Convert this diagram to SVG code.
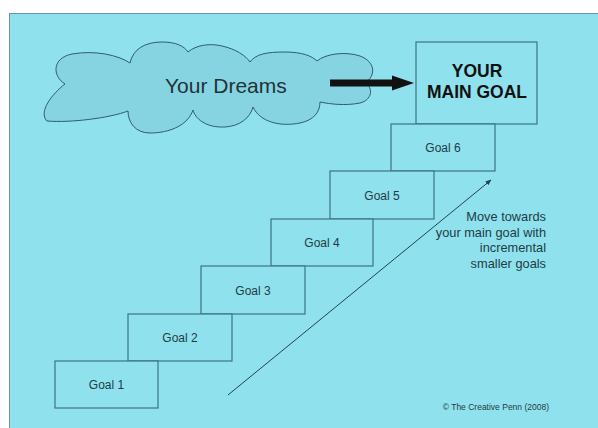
<svg xmlns="http://www.w3.org/2000/svg" width="598" height="428" viewBox="0 0 598 428">
  <defs>
    <style>
      .step rect { fill: #8fe1ee; stroke: #3d7480; stroke-width: 1.2; }
      .step text { font-family: "Liberation Sans", Arial, sans-serif; font-size: 12px; fill: #1f3c44; text-anchor: middle; }
      .note { font-family: "Liberation Sans", Arial, sans-serif; font-size: 12.8px; fill: #1f3c44; text-anchor: end; }
    </style>
    <marker id="thinHead" viewBox="0 0 10 10" refX="9" refY="5" markerWidth="6" markerHeight="6" orient="auto" markerUnits="userSpaceOnUse">
      <path d="M0,1 L10,5 L0,9 Z" fill="#24424b"/>
    </marker>
  </defs>

  <!-- page and panel -->
  <rect x="0" y="0" width="598" height="428" fill="#ffffff"/>
  <rect x="9.5" y="13.5" width="600" height="420" fill="#8fe1ee" stroke="#5f9aa6" stroke-width="1"/>

  <!-- dreams cloud -->
  <g id="dreams">
    <path d="M65,84 C52,76 52,58 72,54 C95,50 118,55 130,63 C133,49 145,42 162,42 C176,42 184,46 188,52 C196,45 210,43 222,46 C236,49 246,56 250,62 C256,54 266,52 285,52 C302,52 312,56 317,61 C325,54 345,51 360,56 C376,62 376,76 365,83 C374,88 372,100 360,103 C345,106 330,104 320,102 C320,112 314,120 300,123 C280,127 260,122 253,107 C250,118 240,126 225,127 C205,128 195,118 193,110 C188,125 170,133 150,133 C135,133 128,122 128,111 C110,118 70,123 47,121 C38,112 52,94 65,84 Z" fill="#86d4e1" stroke="#2f5e6a" stroke-width="1"/>
    <text x="165" y="93" font-family="'Liberation Sans', Arial, sans-serif" font-size="21" fill="#1f3338">Your Dreams</text>
  </g>

  <!-- main goal -->
  <g id="main-goal" class="step">
    <rect x="416" y="42" width="121" height="82"/>
    <text x="477" y="77" font-size="17.5" font-weight="bold" fill="#111111" style="font-size:17.5px;font-weight:bold;fill:#111">YOUR</text>
    <text x="477" y="98" style="font-size:17.5px;font-weight:bold;fill:#111">MAIN GOAL</text>
  </g>

  <!-- staircase of goals -->
  <g id="goal-6" class="step"><rect x="391" y="124" width="104" height="47"/><text x="443" y="152">Goal 6</text></g>
  <g id="goal-5" class="step"><rect x="330" y="171" width="104" height="48"/><text x="382" y="199.5">Goal 5</text></g>
  <g id="goal-4" class="step"><rect x="271" y="219" width="102" height="47"/><text x="322" y="247">Goal 4</text></g>
  <g id="goal-3" class="step"><rect x="201" y="266" width="104" height="48"/><text x="253" y="294.5">Goal 3</text></g>
  <g id="goal-2" class="step"><rect x="128" y="314" width="104" height="47"/><text x="180" y="342">Goal 2</text></g>
  <g id="goal-1" class="step"><rect x="55" y="361" width="103" height="47"/><text x="106.5" y="389">Goal 1</text></g>

  <!-- connectors -->
  <g id="connectors">
    <path d="M330,83 L395,83" stroke="#111111" stroke-width="7" fill="none"/>
    <path d="M392,75.5 L414,83 L392,90.5 Z" fill="#111111"/>
    <line x1="228" y1="395" x2="491" y2="180" stroke="#24424b" stroke-width="1" marker-end="url(#thinHead)"/>
  </g>

  <!-- annotation -->
  <g id="note">
    <text class="note" x="546" y="221">Move towards</text>
    <text class="note" x="546" y="236.5">your main goal with</text>
    <text class="note" x="546" y="252">incremental</text>
    <text class="note" x="546" y="267.5">smaller goals</text>
  </g>

  <text x="549" y="410" font-family="'Liberation Sans', Arial, sans-serif" font-size="8.5" fill="#1f3c44" text-anchor="end">© The Creative Penn (2008)</text>
</svg>
